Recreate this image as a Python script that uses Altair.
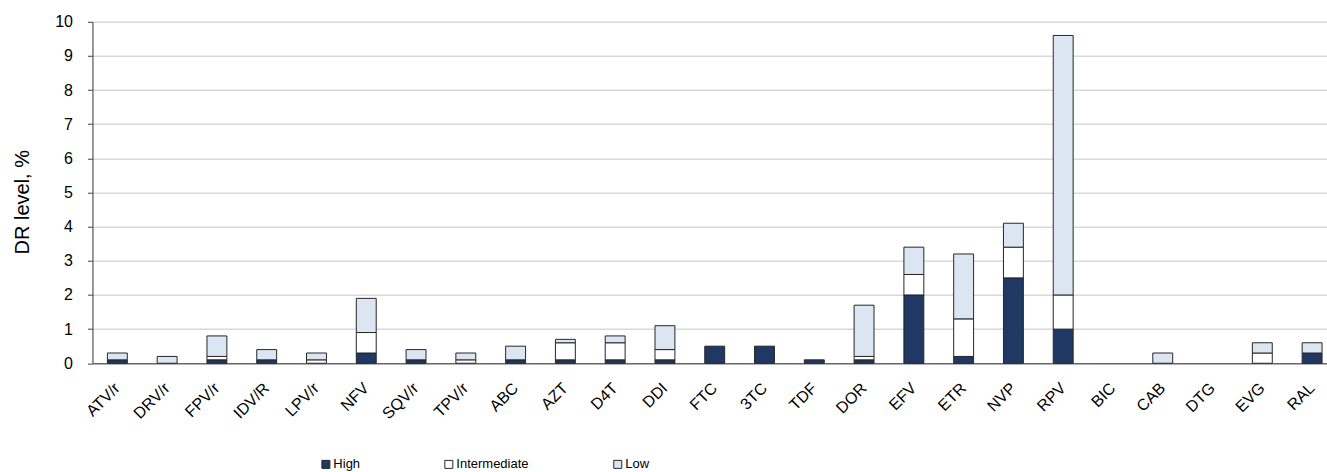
import altair as alt
import pandas as pd

categories = ["ATV/r", "DRV/r", "FPV/r", "IDV/R", "LPV/r", "NFV", "SQV/r", "TPV/r",
              "ABC", "AZT", "D4T", "DDI", "FTC", "3TC", "TDF", "DOR", "EFV", "ETR",
              "NVP", "RPV", "BIC", "CAB", "DTG", "EVG", "RAL"]
high = [0.1, 0, 0.1, 0.1, 0, 0.3, 0.1, 0, 0.1, 0.1, 0.1, 0.1, 0.5, 0.5, 0.1,
        0.1, 2.0, 0.2, 2.5, 1.0, 0, 0, 0, 0, 0.3]
intermediate = [0, 0, 0.1, 0, 0.1, 0.6, 0, 0.1, 0, 0.5, 0.5, 0.3, 0, 0, 0,
                0.1, 0.6, 1.1, 0.9, 1.0, 0, 0, 0, 0.3, 0]
low = [0.2, 0.2, 0.6, 0.3, 0.2, 1.0, 0.3, 0.2, 0.4, 0.1, 0.2, 0.7, 0, 0, 0,
       1.5, 0.8, 1.9, 0.7, 7.6, 0, 0.3, 0, 0.3, 0.3]
levels = ["High", "Intermediate", "Low"]
colors = ["#1f3864", "#ffffff", "#dce6f2"]
y_ticks = list(range(0, 11))

rows = []
for series, vals, order in [("High", high, 0), ("Intermediate", intermediate, 1), ("Low", low, 2)]:
    for c, v in zip(categories, vals):
        if v > 0:
            rows.append({"drug": c, "level": series, "value": v, "ord": order})
df = pd.DataFrame(rows)

font = "Liberation Sans"

chart = alt.Chart(df).mark_bar(stroke="#262626", strokeWidth=1).encode(
    x=alt.X("drug:N", sort=categories, title=None,
            scale=alt.Scale(domain=categories, range=[0, 1245], paddingInner=0.6, paddingOuter=0.3),
            axis=alt.Axis(labelAngle=-45, labelAlign="right", labelBaseline="middle",
                          ticks=False, labelPadding=22, labelFontSize=16, labelFont=font,
                          labelColor="#000000", domainColor="#404040", domainWidth=1.2,
                          grid=False)),
    y=alt.Y("value:Q", stack="zero", title="DR level, %",
            scale=alt.Scale(domain=[0, 10], nice=False),
            axis=alt.Axis(values=y_ticks, tickSize=5, tickColor="#404040", domainColor="#404040",
                          domainWidth=1, labelPadding=15, labelFontSize=16, labelFont=font,
                          labelColor="#000000", titleFont=font, titleFontSize=20,
                          titleFontWeight="normal", titleColor="#000000", titlePadding=22,
                          titleY=180,
                          gridColor="#d9d9d9", gridWidth=1.5)),
    color=alt.Color("level:N", sort=levels,
                    scale=alt.Scale(domain=levels, range=colors),
                    legend=alt.Legend(title=None, orient="none", direction="horizontal",
                                      legendX=227, legendY=436, symbolType="square",
                                      symbolSize=64, symbolStrokeColor="#262626",
                                      symbolStrokeWidth=1, labelFont=font,
                                      labelFontSize=13, labelColor="#000000",
                                      columnPadding=82, labelOffset=1)),
    order=alt.Order("ord:Q", sort="ascending"),
).properties(
    width=1235, height=341.6,
    padding={"left": 92.5, "top": 21.7, "right": 0, "bottom": 108.7},
    autosize=alt.AutoSizeParams(type="none"),
).configure_view(stroke=None).configure(background="#ffffff")

chart.save("out.html", embed_options={"renderer": "svg", "actions": False})
